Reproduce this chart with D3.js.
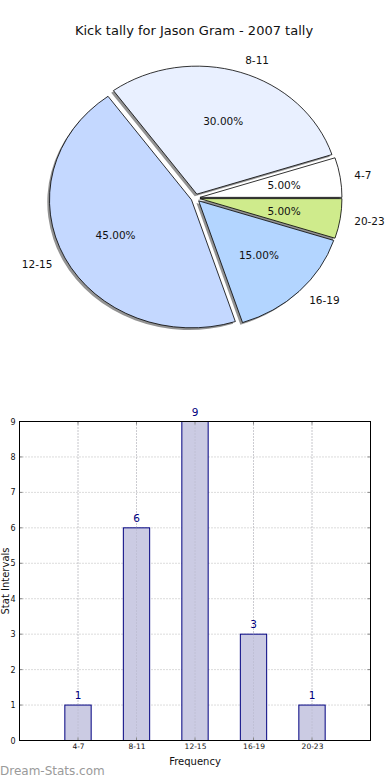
<!DOCTYPE html>
<html><head><meta charset="utf-8">
<script src="https://cdn.jsdelivr.net/npm/d3@7"></script>
<style>html,body{margin:0;padding:0;background:#fff;}svg{display:block;}text{font-family:"DejaVu Sans",sans-serif;}</style>
</head><body>
<script>
const title = "Kick tally for Jason Gram - 2007 tally";
const categories = ["4-7", "8-11", "12-15", "16-19", "20-23"];
const counts = [1, 6, 9, 3, 1];
const pieColors = ["#ffffff", "#e9f0ff", "#c4d8ff", "#b3d5ff", "#cfeb8c"];
const yTicks = [0, 1, 2, 3, 4, 5, 6, 7, 8, 9];
const xLabel = "Frequency";
const yLabel = "Stat Intervals";
const watermark = "Dream-Stats.com";

const W = 390, H = 780;
const svg = d3.select("body").append("svg").attr("width", W).attr("height", H);

svg.append("text").attr("x", 194).attr("y", 30).attr("text-anchor", "middle")
  .attr("dominant-baseline", "central").attr("font-size", 13).attr("fill", "#111").text(title);

// ---- Pie ----
const cx = 195.5, cy = 198, rx = 142, ry = 128, ex = 4.5;
const sy = ry / rx;
const total = d3.sum(counts);
// matplotlib: start at east, counterclockwise -> d3 angle = PI/2 - theta
const pie = d3.pie().sort(null).value(d => d).startAngle(Math.PI / 2).endAngle(Math.PI / 2 - 2 * Math.PI);
const arcs = pie(counts);
const arc = d3.arc().innerRadius(0).outerRadius(rx);
const g = svg.append("g").attr("transform", `translate(${cx},${cy}) scale(1,${sy})`);
function off(d) { const m = (d.startAngle + d.endAngle) / 2; return [ex * Math.sin(m), -ex * Math.cos(m)]; }
// shadows
g.selectAll("path.sh").data(arcs).join("path").attr("class", "sh")
  .attr("d", arc)
  .attr("transform", d => { const o = off(d); return `translate(${o[0] - 2.2},${o[1] + 2.2 / sy})`; })
  .attr("fill", "#3a3a3a").attr("fill-opacity", 0.55);
g.selectAll("path.sl").data(arcs).join("path").attr("class", "sl")
  .attr("d", arc)
  .attr("transform", d => { const o = off(d); return `translate(${o[0]},${o[1]})`; })
  .attr("fill", (d, i) => pieColors[i]).attr("stroke", "#000").attr("stroke-width", 0.8)
  .attr("vector-effect", "non-scaling-stroke").attr("stroke-linejoin", "round");

arcs.forEach((d, i) => {
  const m = (d.startAngle + d.endAngle) / 2;
  const s = Math.sin(m), c = -Math.cos(m);
  const lx = cx + (ex + 1.1 * rx) * s, ly = cy + (ex + 1.1 * rx) * c * sy;
  svg.append("text").attr("x", lx).attr("y", ly)
    .attr("text-anchor", s >= 0 ? "start" : "end").attr("dominant-baseline", "central")
    .attr("font-size", 10.5).attr("fill", "#111").text(categories[i]);
  const px = cx + (ex + 0.6 * rx) * s, py = cy + (ex + 0.6 * rx) * c * sy;
  svg.append("text").attr("x", px).attr("y", py)
    .attr("text-anchor", "middle").attr("dominant-baseline", "central")
    .attr("font-size", 10.5).attr("fill", "#111")
    .text((d.value / total * 100).toFixed(2) + "%");
});

// ---- Bar chart ----
const L = 19.5, R = 370.5, T = 421.5, B = 740.5;
const x = d3.scaleLinear().domain([0, categories.length + 1]).range([L, R]);
const y = d3.scaleLinear().domain([0, 9]).range([B, T]);
const bw = x(0.45) - x(0);
const bg = svg.append("g");
// grid
bg.selectAll("line.hg").data(yTicks).join("line").attr("class", "hg")
  .attr("x1", L).attr("x2", R).attr("y1", d => y(d)).attr("y2", d => y(d))
  .attr("stroke", "#b8b8b8").attr("stroke-width", 1).attr("stroke-dasharray", "1,2");
bg.selectAll("line.vg").data(categories).join("line").attr("class", "vg")
  .attr("x1", (d, i) => x(i + 1)).attr("x2", (d, i) => x(i + 1)).attr("y1", T).attr("y2", B)
  .attr("stroke", "#b8b8b8").attr("stroke-width", 1).attr("stroke-dasharray", "1,2");
// bars
bg.selectAll("rect.bar").data(counts).join("rect").attr("class", "bar")
  .attr("x", (d, i) => x(i + 1) - bw / 2).attr("width", bw)
  .attr("y", d => y(d)).attr("height", d => B - y(d))
  .attr("fill", "#cbcbe3").attr("stroke", "#000080").attr("stroke-width", 1);
// grid over bars (matplotlib draws grid above)
bg.selectAll("line.vg2").data(categories).join("line").attr("class", "vg2")
  .attr("x1", (d, i) => x(i + 1)).attr("x2", (d, i) => x(i + 1)).attr("y1", d => T).attr("y2", B)
  .attr("stroke", "#a8a8b8").attr("stroke-width", 1).attr("stroke-dasharray", "1,2").attr("opacity", 0.6);
// value labels
bg.selectAll("text.val").data(counts).join("text").attr("class", "val")
  .attr("x", (d, i) => x(i + 1)).attr("y", d => y(d) - 6)
  .attr("text-anchor", "middle").attr("font-size", 10.5).attr("fill", "#000080").text(d => d);
// ticks (inward)
yTicks.forEach(t => {
  bg.append("line").attr("x1", L).attr("x2", L + 3).attr("y1", y(t)).attr("y2", y(t)).attr("stroke", "#888");
  bg.append("line").attr("x1", R - 3).attr("x2", R).attr("y1", y(t)).attr("y2", y(t)).attr("stroke", "#888");
});
categories.forEach((c, i) => {
  bg.append("line").attr("x1", x(i + 1)).attr("x2", x(i + 1)).attr("y1", B - 3).attr("y2", B).attr("stroke", "#888");
  bg.append("line").attr("x1", x(i + 1)).attr("x2", x(i + 1)).attr("y1", T).attr("y2", T + 3).attr("stroke", "#888");
});
// frame
bg.append("rect").attr("x", L).attr("y", T).attr("width", R - L).attr("height", B - T)
  .attr("fill", "none").attr("stroke", "#000").attr("stroke-width", 1);
// tick labels
const yAxis = d3.axisLeft(y).tickValues(yTicks).tickSize(0).tickPadding(4);
const ya = svg.append("g").attr("transform", `translate(${L},0)`).call(yAxis);
ya.select(".domain").remove();
ya.selectAll("text").attr("font-size", 8).attr("fill", "#111").attr("font-family", "DejaVu Sans");
const xAxis = d3.axisBottom(x).tickValues(categories.map((c, i) => i + 1)).tickFormat(v => categories[v - 1]).tickSize(0).tickPadding(3);
const xa = svg.append("g").attr("transform", `translate(0,${B})`).call(xAxis);
xa.select(".domain").remove();
xa.selectAll("text").attr("font-size", 7.5).attr("fill", "#111").attr("font-family", "DejaVu Sans");

svg.append("text").attr("x", (L + R) / 2).attr("y", 761).attr("text-anchor", "middle")
  .attr("dominant-baseline", "central").attr("font-size", 10).attr("fill", "#111").text(xLabel);
svg.append("text").attr("transform", `translate(8.5,581) rotate(-90)`).attr("text-anchor", "middle")
  .attr("font-size", 10).attr("fill", "#111").text(yLabel);

svg.append("text").attr("x", 0).attr("y", 775).attr("font-size", 12).attr("fill", "#9a9a9a")
  .attr("font-family", "Open Sans, DejaVu Sans").text(watermark);
</script>
</body></html>
